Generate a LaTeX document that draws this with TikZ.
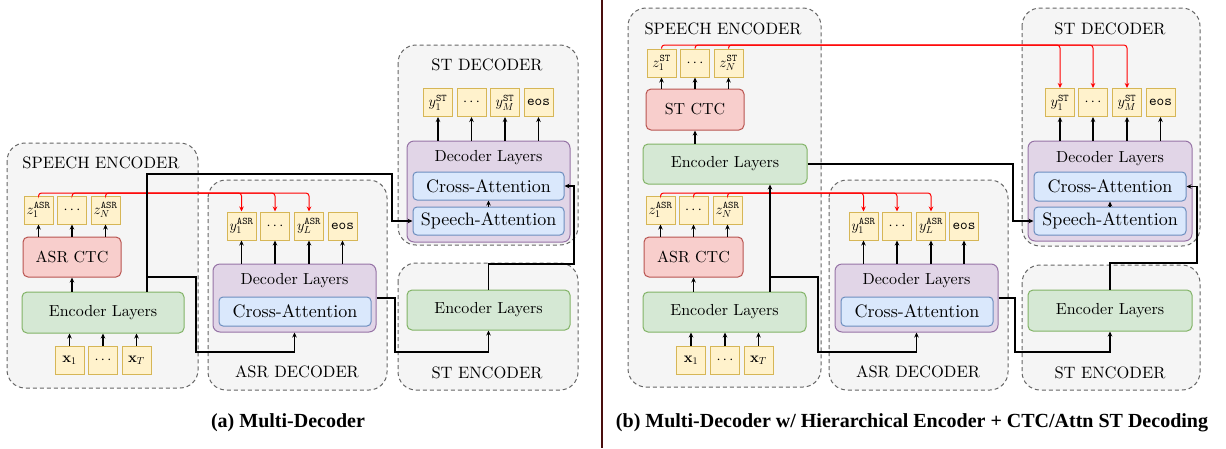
\RequirePackage{fix-cm}
\documentclass[tikz,border=0pt]{standalone}
\usepackage{fontspec}
\setmainfont{lmroman10-regular.otf}[BoldFont=lmroman10-bold.otf, ItalicFont=lmroman10-italic.otf, BoldItalicFont=lmroman10-bolditalic.otf]
\setmonofont{lmmono10-regular.otf}
\newfontfamily\capfont{Liberation Serif}
\usetikzlibrary{arrows.meta,calc}
\definecolor{yfill}{HTML}{FFF2CC}\definecolor{ydraw}{HTML}{D6B656}
\definecolor{rfill}{HTML}{F8CECC}\definecolor{rdraw}{HTML}{B85450}
\definecolor{gfill}{HTML}{D5E8D4}\definecolor{gdraw}{HTML}{82B366}
\definecolor{pfill}{HTML}{E1D5E7}\definecolor{pdraw}{HTML}{9673A6}
\definecolor{bfill}{HTML}{DAE8FC}\definecolor{bdraw}{HTML}{6C8EBF}
\definecolor{grpfill}{HTML}{F5F5F5}\definecolor{grpdraw}{HTML}{666666}
\definecolor{sepcol}{HTML}{4A0E0E}
\definecolor{redline}{HTML}{FF0000}
\begin{document}
\begin{tikzpicture}[x=1pt,y=-1pt,
  tok/.style={draw=ydraw, fill=yfill, line width=1pt, minimum width=29pt, minimum height=28pt, inner sep=0pt, font=\fontsize{14.5}{16}\selectfont},
  ctcbox/.style={draw=rdraw, fill=rfill, rounded corners=5pt, line width=1pt, inner sep=0pt, font=\fontsize{16}{19}\selectfont},
  encbox/.style={draw=gdraw, fill=gfill, rounded corners=5pt, line width=1pt, inner sep=0pt, font=\fontsize{16}{19}\selectfont},
  decbox/.style={draw=pdraw, fill=pfill, rounded corners=7pt, line width=1pt, inner sep=0pt},
  declbl/.style={inner sep=0pt, font=\fontsize{16}{19}\selectfont},
  attbox/.style={draw=bdraw, fill=bfill, rounded corners=4pt, line width=1pt, inner sep=0pt, font=\fontsize{18}{21}\selectfont},
  grp/.style={draw=grpdraw, fill=grpfill, dash pattern=on 4pt off 3pt, rounded corners=18pt, line width=1pt},
  ttl/.style={inner sep=0pt, font=\fontsize{16.5}{20}\selectfont},
  arr/.style={-{Stealth[length=5pt,width=4.5pt]}, line width=1.1pt, black},
  rarr/.style={-{Stealth[length=5pt,width=4.5pt]}, line width=1pt, redline, rounded corners=3pt},
  captxt/.style={inner sep=0pt, font=\capfont\bfseries\fontsize{20}{24}\selectfont}]
\useasboundingbox (0,0) rectangle (1226,448);

% ================= (a) =================
\draw[grp] (7,143) rectangle (198,388);
\draw[grp] (208,180) rectangle (387,390);
\draw[grp] (398,45) rectangle (578,245);
\draw[grp] (398,263) rectangle (578,390);
\node[ttl] (ta1) at (101,163) {SPEECH ENCODER};
\node[ttl] (ta2) at (297,372) {ASR DECODER};
\node[ttl] (ta3) at (487,65) {ST DECODER};
\node[ttl] (ta4) at (487,373) {ST ENCODER};

\node[tok] (lz1) at (38.5,210) {$z_1^{\mathtt{ASR}}$};
\node[tok] (lz2) at (72,210) {$\cdots$};
\node[tok] (lz3) at (105.5,210) {$z_N^{\mathtt{ASR}}$};
\node[ctcbox, minimum width=98pt, minimum height=40pt] (lctc) at (72,257) {ASR CTC};
\node[encbox, minimum width=162pt, minimum height=41pt] (lenc) at (103,312.5) {Encoder Layers};
\node[tok] (lx1) at (69.5,360) {$\mathbf{x}_1$};
\node[tok] (lx2) at (103,360) {$\cdots$};
\node[tok] (lx3) at (136.5,360) {$\mathbf{x}_T$};

\node[tok] (lay1) at (241.5,226) {$y_1^{\mathtt{ASR}}$};
\node[tok] (lay2) at (275,226) {$\cdots$};
\node[tok] (lay3) at (309,226) {$y_L^{\mathtt{ASR}}$};
\node[tok] (lay4) at (342.5,226) {\texttt{eos}};
\node[decbox, minimum width=163pt, minimum height=68pt] (ladec) at (294.5,298) {};
\node[declbl] (ladect) at (294.5,281) {Decoder Layers};
\node[attbox, minimum width=152pt, minimum height=29pt] (laca) at (295,311.5) {Cross-Attention};

\node[tok] (lsy1) at (438,102.5) {$y_1^{\mathtt{ST}}$};
\node[tok] (lsy2) at (471.5,102.5) {$\cdots$};
\node[tok] (lsy3) at (505,102.5) {$y_M^{\mathtt{ST}}$};
\node[tok] (lsy4) at (538.5,102.5) {\texttt{eos}};
\node[decbox, minimum width=163pt, minimum height=101pt] (lsdec) at (488.5,191.5) {};
\node[declbl] (lsdect) at (488.5,158) {Decoder Layers};
\node[attbox, minimum width=151pt, minimum height=28pt] (lsca) at (488.5,186) {Cross-Attention};
\node[attbox, minimum width=151pt, minimum height=28pt] (lssa) at (488.5,221) {Speech-Attention};
\node[encbox, minimum width=163pt, minimum height=40pt] (lsenc) at (488.5,310) {Encoder Layers};

% connectors (a)
\foreach \i in {1,2,3} \draw[arr] (lx\i.north) -- (lx\i.north |- lenc.south);
\draw[arr] (lctc.south |- lenc.north) -- (lctc.south);
\foreach \i in {1,2,3} \draw[arr] (lz\i.south |- lctc.north) -- (lz\i.south);
\foreach \i in {1,2,3,4} \draw[arr] (lay\i.south |- ladec.north) -- (lay\i.south);
\foreach \i in {1,2,3,4} \draw[arr] (lsy\i.south |- lsdec.north) -- (lsy\i.south);
\coordinate (lry) at (0,193);
\foreach \i in {1,2,3} \draw[rarr] (lz\i.north) |- (lay\i.north |- lry) -- (lay\i.north);
\coordinate (lbx) at (147,0);
\coordinate (lk1) at (392,174);
\draw[arr] (lenc.north -| lbx) |- (lk1) |- (lssa.west);
\coordinate (lb) at (147,277);
\coordinate (lk2) at (196,352);
\draw[arr] (lb) -| (lk2) -| (ladec.south);
\coordinate (lk3) at (395,352);
\draw[arr] (ladec.east) -| (lk3) -| (lsenc.south);
\coordinate (lk4) at (574,264);
\draw[arr] (lsenc.north) |- (lk4) |- (lsca.east);
\draw[arr] (lssa.north) -- (lsca.south);

% ================= (b) =================
\draw[grp] (628,8) rectangle (821,387);
\draw[grp] (829,180) rectangle (1008,390);
\draw[grp] (1022,8) rectangle (1200,246);
\draw[grp] (1022,265) rectangle (1200,390);
\node[ttl] (tb1) at (723,29) {SPEECH ENCODER};
\node[ttl] (tb2) at (918,372) {ASR DECODER};
\node[ttl] (tb3) at (1110,29) {ST DECODER};
\node[ttl] (tb4) at (1110,373) {ST ENCODER};

\node[tok] (rzs1) at (661.5,63) {$z_1^{\mathtt{ST}}$};
\node[tok] (rzs2) at (695,63) {$\cdots$};
\node[tok] (rzs3) at (728.5,63) {$z_N^{\mathtt{ST}}$};
\node[ctcbox, minimum width=98pt, minimum height=41pt] (rstctc) at (695,109.5) {ST CTC};
\node[encbox, minimum width=164pt, minimum height=40pt] (renc2) at (725,164) {Encoder Layers};
\node[tok] (rza1) at (660.5,210) {$z_1^{\mathtt{ASR}}$};
\node[tok] (rza2) at (693.5,210) {$\cdots$};
\node[tok] (rza3) at (727.5,210) {$z_N^{\mathtt{ASR}}$};
\node[ctcbox, minimum width=99pt, minimum height=40pt] (ractc) at (693.5,257) {ASR CTC};
\node[encbox, minimum width=163pt, minimum height=40pt] (renc1) at (724.5,312) {Encoder Layers};
\node[tok] (rx1) at (691,360.5) {$\mathbf{x}_1$};
\node[tok] (rx2) at (725,360.5) {$\cdots$};
\node[tok] (rx3) at (758.5,360.5) {$\mathbf{x}_T$};

\node[tok] (ray1) at (863.5,226) {$y_1^{\mathtt{ASR}}$};
\node[tok] (ray2) at (897,226) {$\cdots$};
\node[tok] (ray3) at (931,226) {$y_L^{\mathtt{ASR}}$};
\node[tok] (ray4) at (964,226) {\texttt{eos}};
\node[decbox, minimum width=163pt, minimum height=68pt] (rdec) at (916.5,298) {};
\node[declbl] (rdect) at (916.5,281) {Decoder Layers};
\node[attbox, minimum width=152pt, minimum height=29pt] (raca) at (917,311.5) {Cross-Attention};

\node[tok] (rsy1) at (1060,102.5) {$y_1^{\mathtt{ST}}$};
\node[tok] (rsy2) at (1093,102.5) {$\cdots$};
\node[tok] (rsy3) at (1127,102.5) {$y_M^{\mathtt{ST}}$};
\node[tok] (rsy4) at (1160.5,102.5) {\texttt{eos}};
\node[decbox, minimum width=164pt, minimum height=100pt] (rsdec) at (1110,191) {};
\node[declbl] (rsdect) at (1110,159) {Decoder Layers};
\node[attbox, minimum width=152pt, minimum height=29pt] (rsca) at (1110,186.5) {Cross-Attention};
\node[attbox, minimum width=152pt, minimum height=28pt] (rssa) at (1110,221) {Speech-Attention};
\node[encbox, minimum width=164pt, minimum height=41pt] (rsenc) at (1110,310.5) {Encoder Layers};

% connectors (b)
\foreach \i in {1,2,3} \draw[arr] (rx\i.north) -- (rx\i.north |- renc1.south);
\draw[arr] (ractc.south |- renc1.north) -- (ractc.south);
\foreach \i in {1,2,3} \draw[arr] (rza\i.south |- ractc.north) -- (rza\i.south);
\draw[arr] (rstctc.south |- renc2.north) -- (rstctc.south);
\foreach \i in {1,2,3} \draw[arr] (rzs\i.south |- rstctc.north) -- (rzs\i.south);
\foreach \i in {1,2,3,4} \draw[arr] (ray\i.south |- rdec.north) -- (ray\i.south);
\foreach \i in {1,2,3,4} \draw[arr] (rsy\i.south |- rsdec.north) -- (rsy\i.south);
\coordinate (rry) at (0,193);
\foreach \i in {1,2,3} \draw[rarr] (rza\i.north) |- (ray\i.north |- rry) -- (ray\i.north);
\coordinate (rsry) at (0,45);
\foreach \i in {1,2,3} \draw[rarr] (rzs\i.north) |- (rsy\i.north |- rsry) -- (rsy\i.north);
\coordinate (rbx) at (770,0);
\draw[arr] (renc1.north -| rbx) -- (renc2.south -| rbx);
\coordinate (rk1) at (1013,190);
\draw[arr] (renc2.east) -| (rk1) |- (rssa.west);
\coordinate (rb) at (770,277);
\coordinate (rk2) at (818,352);
\draw[arr] (rb) -| (rk2) -| (rdec.south);
\coordinate (rk3) at (1015,352);
\draw[arr] (rdec.east) -| (rk3) -| (rsenc.south);
\coordinate (rk4) at (1197,263);
\draw[arr] (rsenc.north) |- (rk4) |- (rsca.east);
\draw[arr] (rssa.north) -- (rsca.south);

% separator and captions
\coordinate (septop) at (602,0);
\coordinate (sepbot) at (602,448);
\draw[line width=2pt, sepcol] (septop) -- (sepbot);
\node[captxt] (capa) at (288,423) {(a) Multi-Decoder};
\node[captxt] (capb) at (912,423) {(b) Multi-Decoder w/ Hierarchical Encoder + CTC/Attn ST Decoding};
\end{tikzpicture}
\end{document}
